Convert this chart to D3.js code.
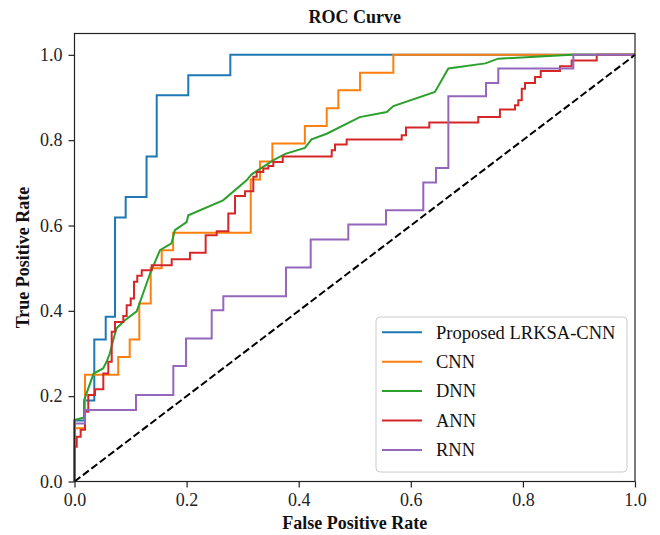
<!DOCTYPE html>
<html>
<head>
<meta charset="utf-8">
<script src="https://cdn.jsdelivr.net/npm/d3@7"></script>
<style>
    body { margin: 0; background: #fff; }
    text { font-family: "Liberation Serif", "Times New Roman", serif; }
</style>
</head>
<body>
<div id="chart"></div>
<script>
// ROC curves (step curves: top of each vertical jump)
const seriesNames = ['Proposed LRKSA-CNN', 'CNN', 'DNN', 'ANN', 'RNN'];

const lrksaFpr = [0, 0, 0.018, 0.0353, 0.0557, 0.0723, 0.0913, 0.1285, 0.1467, 0.203, 0.278, 1];
const lrksaTpr = [0, 0.143, 0.19, 0.333, 0.386, 0.619, 0.667, 0.762, 0.905, 0.952, 1.0, 1];

const cnnFpr = [0, 0, 0.0187, 0.078, 0.0985, 0.1156, 0.136, 0.1556, 0.176, 0.3144, 0.331, 0.353, 0.411, 0.450, 0.4707, 0.5094, 0.5688, 1];
const cnnTpr = [0, 0.125, 0.25, 0.292, 0.333, 0.417, 0.5, 0.542, 0.583, 0.708, 0.75, 0.792, 0.833, 0.875, 0.917, 0.958, 1.0, 1];

// DNN is drawn point to point, not as steps
const dnnFpr = [0, 0, 0.017, 0.017, 0.034, 0.051, 0.057, 0.063, 0.069, 0.075, 0.09, 0.111, 0.135, 0.1525, 0.173, 0.179, 0.200, 0.203, 0.265, 0.307, 0.316, 0.355, 0.376, 0.411, 0.423, 0.450, 0.509, 0.557, 0.569, 0.643, 0.667, 0.733, 0.756, 0.887, 1];
const dnnTpr = [0, 0.144, 0.15, 0.19, 0.253, 0.265, 0.28, 0.30, 0.331, 0.359, 0.378, 0.399, 0.488, 0.542, 0.558, 0.589, 0.608, 0.624, 0.659, 0.706, 0.72, 0.753, 0.768, 0.782, 0.802, 0.815, 0.854, 0.866, 0.880, 0.913, 0.968, 0.980, 0.991, 1.0, 1];

const annFpr = [0, 0, 0.004, 0.011, 0.0187, 0.0246, 0.0366, 0.0514, 0.0603, 0.0664, 0.0723, 0.0871, 0.0931, 0.1003, 0.1062, 0.112, 0.12, 0.1377, 0.1734, 0.206, 0.234, 0.2537, 0.2744, 0.2864, 0.3042, 0.319, 0.325, 0.3368, 0.3458, 0.3547, 0.3715, 0.4589, 0.4648, 0.4856, 0.5838, 0.5914, 0.633, 0.7204, 0.759, 0.786, 0.7918, 0.798, 0.8038, 0.8216, 0.8318, 0.8662, 0.887, 0.9317, 1];
const annTpr = [0, 0.0815, 0.105, 0.121, 0.1635, 0.2026, 0.216, 0.253, 0.2806, 0.3508, 0.374, 0.3876, 0.4133, 0.429, 0.468, 0.482, 0.4953, 0.507, 0.521, 0.536, 0.5773, 0.5867, 0.628, 0.669, 0.680, 0.714, 0.7255, 0.7335, 0.7396, 0.749, 0.7615, 0.7763, 0.7897, 0.8014, 0.8115, 0.8295, 0.8412, 0.8543, 0.8717, 0.8817, 0.8934, 0.9208, 0.934, 0.948, 0.962, 0.973, 0.987, 1.0, 1];

const rnnFpr = [0, 0, 0.0187, 0.1097, 0.1763, 0.199, 0.2448, 0.2655, 0.3773, 0.4214, 0.4885, 0.5558, 0.6223, 0.645, 0.667, 0.7342, 0.7561, 0.890, 1];
const rnnTpr = [0, 0.136, 0.1674, 0.2026, 0.2705, 0.3354, 0.4016, 0.4344, 0.5016, 0.567, 0.6023, 0.6358, 0.7007, 0.735, 0.9028, 0.934, 0.9677, 1.0, 1];

const xTicks = [0, 0.2, 0.4, 0.6, 0.8, 1.0];
const yTicks = [0, 0.2, 0.4, 0.6, 0.8, 1.0];

const colors = ['#1f77b4', '#ff7f0e', '#2ca02c', '#d62728', '#9467bd'];

var width = 660,
    height = 535,
    margin = { top: 33.5, right: 25, bottom: 53.5, left: 74.5 };

var series = [
    { name: seriesNames[0], fpr: lrksaFpr, tpr: lrksaTpr, step: true },
    { name: seriesNames[1], fpr: cnnFpr, tpr: cnnTpr, step: true },
    { name: seriesNames[2], fpr: dnnFpr, tpr: dnnTpr, step: false },
    { name: seriesNames[3], fpr: annFpr, tpr: annTpr, step: true },
    { name: seriesNames[4], fpr: rnnFpr, tpr: rnnTpr, step: true },
];

var svg = d3.select('#chart').append('svg')
    .attr('width', width)
    .attr('height', height);

var x = d3.scaleLinear().domain([0, 1]).range([margin.left, width - margin.right]);
var y = d3.scaleLinear().domain([0, 1.05]).range([height - margin.bottom, margin.top]);

// curves
series.forEach(function (s, i) {
    var pts = s.fpr.map((f, j) => [f, s.tpr[j]]);
    var line = d3.line()
        .x(d => x(d[0]))
        .y(d => y(d[1]))
        .curve(s.step ? d3.curveStepAfter : d3.curveLinear);
    svg.append('path')
        .datum(pts)
        .attr('d', line)
        .attr('fill', 'none')
        .attr('stroke', colors[i])
        .attr('stroke-width', 2)
        .attr('stroke-linejoin', 'miter');
});

// chance line
svg.append('path')
    .datum([[0, 0], [1, 1]])
    .attr('d', d3.line().x(d => x(d[0])).y(d => y(d[1])))
    .attr('stroke', '#000')
    .attr('stroke-width', 2)
    .attr('stroke-dasharray', '7.4,3.2')
    .attr('fill', 'none');

// axes
var xAxis = svg.append('g')
    .attr('transform', `translate(0,${height - margin.bottom})`)
    .call(d3.axisBottom(x).tickValues(xTicks).tickFormat(d3.format('.1f')).tickSizeInner(6).tickSizeOuter(0).tickPadding(6));
var yAxis = svg.append('g')
    .attr('transform', `translate(${margin.left},0)`)
    .call(d3.axisLeft(y).tickValues(yTicks).tickFormat(d3.format('.1f')).tickSizeInner(6).tickSizeOuter(0).tickPadding(6));

[xAxis, yAxis].forEach(function (ax) {
    ax.select('.domain').remove();
    ax.selectAll('line').attr('stroke', '#222').attr('stroke-width', 1.2);
    ax.selectAll('text')
        .attr('fill', '#222')
        .style('font-size', '18px')
        .style('font-family', '"Liberation Serif", "Times New Roman", serif');
});

// frame
svg.append('rect')
    .attr('x', margin.left)
    .attr('y', margin.top)
    .attr('width', width - margin.left - margin.right)
    .attr('height', height - margin.top - margin.bottom)
    .attr('fill', 'none')
    .attr('stroke', '#222')
    .attr('stroke-width', 1.2);

// title and labels
svg.append('text')
    .attr('x', (margin.left + width - margin.right) / 2)
    .attr('y', 22.7)
    .attr('text-anchor', 'middle')
    .style('font-size', '18px')
    .style('font-weight', 'bold')
    .attr('fill', '#111')
    .text('ROC Curve');

svg.append('text')
    .attr('x', (margin.left + width - margin.right) / 2)
    .attr('y', 529)
    .attr('text-anchor', 'middle')
    .style('font-size', '18px')
    .style('font-weight', 'bold')
    .attr('fill', '#111')
    .text('False Positive Rate');

svg.append('text')
    .attr('transform', `translate(28.5,${(margin.top + height - margin.bottom) / 2}) rotate(-90)`)
    .attr('text-anchor', 'middle')
    .style('font-size', '18px')
    .style('font-weight', 'bold')
    .attr('fill', '#111')
    .text('True Positive Rate');

// legend
var legend = svg.append('g').attr('transform', 'translate(376,317)');
legend.append('rect')
    .attr('width', 251)
    .attr('height', 155)
    .attr('rx', 4)
    .attr('fill', '#fff')
    .attr('fill-opacity', 0.8)
    .attr('stroke', '#ccc')
    .attr('stroke-width', 1);

series.forEach(function (s, i) {
    var row = legend.append('g').attr('transform', `translate(0,${15.3 + i * 29.4})`);
    row.append('line')
        .attr('x1', 6).attr('x2', 46)
        .attr('stroke', colors[i])
        .attr('stroke-width', 2);
    row.append('text')
        .attr('x', 60)
        .attr('y', 6.3)
        .style('font-size', '18.5px')
        .attr('fill', '#111')
        .text(s.name);
});
</script>
</body>
</html>
